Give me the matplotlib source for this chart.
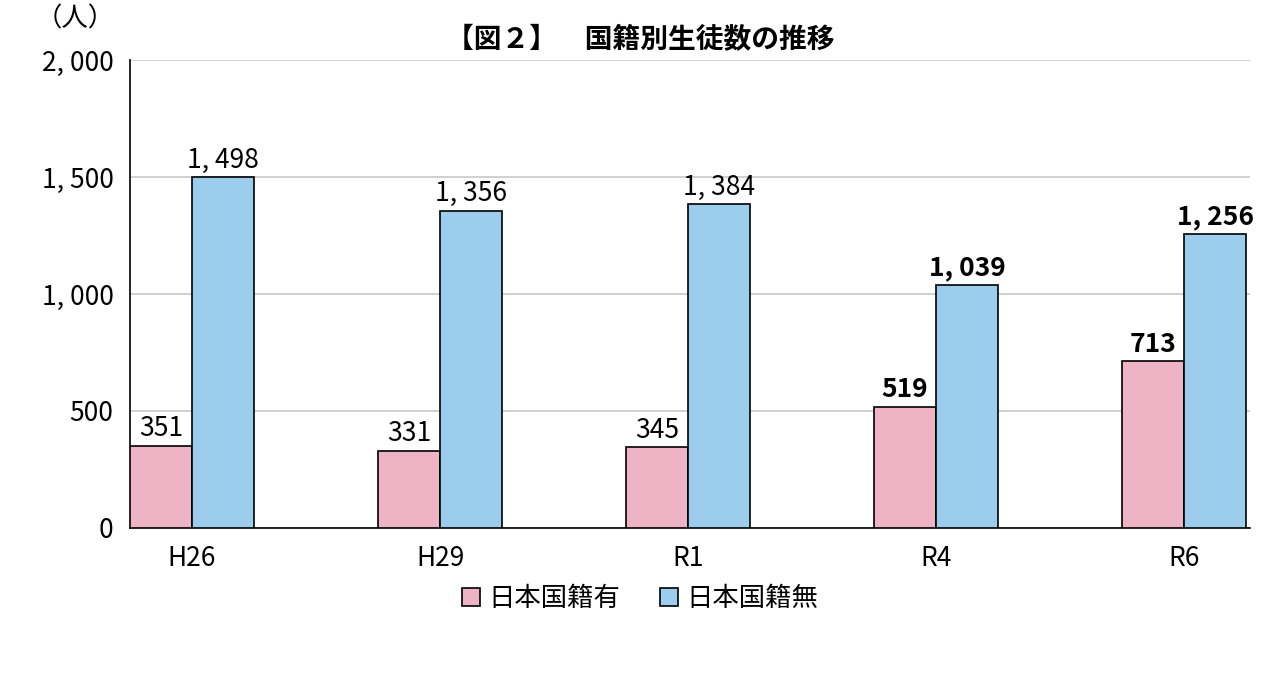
import matplotlib
matplotlib.use("Agg")
import matplotlib.pyplot as plt
import numpy as np

plt.rcParams['font.family'] = ['Noto Sans CJK JP', 'DejaVu Sans']

categories = ["H26", "H29", "R1", "R4", "R6"]
with_jp = [351, 331, 345, 519, 713]
without_jp = [1498, 1356, 1384, 1039, 1256]
yticks = [0, 500, 1000, 1500, 2000]
ytick_labels = ["0", "500", "1, 000", "1, 500", "2, 000"]
bold_flags = [False, False, False, True, True]

fig = plt.figure(figsize=(12.8, 6.73), dpi=100)
ax = fig.add_axes([0.1016, 0.2155, 0.875, 0.6953])
x = np.arange(len(categories))
w = 0.25
pink = "#EEB4C6"
blue = "#9CCDEC"
ax.bar(x - w/2, with_jp, w, color=pink, edgecolor="black", linewidth=1.2, label="日本国籍有", zorder=3)
ax.bar(x + w/2, without_jp, w, color=blue, edgecolor="black", linewidth=1.2, label="日本国籍無", zorder=3)

def fmt(v):
    return f"{v:,}".replace(",", ", ")

for i in range(len(categories)):
    fw = "bold" if bold_flags[i] else "normal"
    ax.text(x[i] - w/2, with_jp[i] + 15, fmt(with_jp[i]), ha="center", va="bottom", fontsize=19, fontweight=fw)
    ax.text(x[i] + w/2, without_jp[i] + 15, fmt(without_jp[i]), ha="center", va="bottom", fontsize=19, fontweight=fw)

ax.set_xlim(-0.25, 4.266)
ax.set_ylim(0, 2000)
ax.set_yticks(yticks)
ax.set_yticklabels(ytick_labels, fontsize=19)
ax.set_xticks(x)
ax.set_xticklabels(categories, fontsize=19)
ax.tick_params(axis="both", length=0, pad=12)
ax.yaxis.grid(True, color="#C8C8C8", linewidth=1.2, zorder=0)
for s in ["top", "right"]:
    ax.spines[s].set_visible(False)
ax.spines["left"].set_linewidth(1.2)
ax.spines["bottom"].set_linewidth(1.2)

fig.text(0.5, 0.94, "【図２】　国籍別生徒数の推移", ha="center", va="center", fontsize=20, fontweight="bold")
fig.text(0.028, 0.972, "（人）", ha="left", va="center", fontsize=19)
fig.legend(loc="center", bbox_to_anchor=(0.5, 0.11), ncol=2, frameon=False, fontsize=19,
           handlelength=0.7, handleheight=0.7, columnspacing=1.5, handletextpad=0.3)
fig.savefig("out.png", dpi=100)
